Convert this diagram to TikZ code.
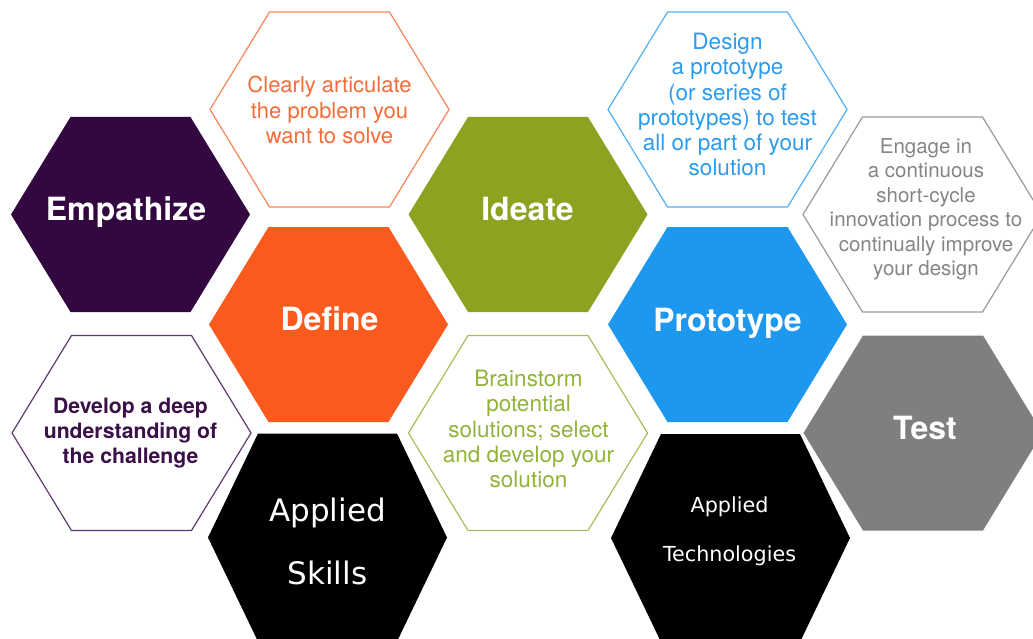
\documentclass[tikz,border=0pt]{standalone}
\usepackage{fontspec}
\setmainfont{TeX Gyre Heros}
\newfontfamily\verdfont{DejaVu Sans}
\definecolor{purplefill}{HTML}{33073F}
\definecolor{orangefill}{HTML}{FA5A1E}
\definecolor{greenfill}{HTML}{8BA321}
\definecolor{bluefill}{HTML}{1D98EE}
\definecolor{grayfill}{HTML}{7F7F7F}
\definecolor{orangetxt}{HTML}{F76B38}
\definecolor{orangeline}{HTML}{F7845A}
\definecolor{bluetxt}{HTML}{2A9BEF}
\definecolor{blueline}{HTML}{52B0F2}
\definecolor{greentxt}{HTML}{92B33A}
\definecolor{greenline}{HTML}{A5BE5A}
\definecolor{graytxt}{HTML}{858585}
\definecolor{grayline}{HTML}{999999}
\definecolor{purpletxt}{HTML}{3A1047}
\definecolor{purpleline}{HTML}{5E3A6E}
\newcommand\hexcell[3]{\path[#1,shift={(#2,#3)}] (-119.5,0) -- (-60,-97.5) -- (60,-97.5) -- (119.5,0) -- (60,97.5) -- (-60,97.5) -- cycle;}
\newcommand\bighexcell[3]{\path[#1,shift={(#2,#3)}] (-119.5,0) -- (-69.5,-104) -- (69.5,-104) -- (119.5,0) -- (69.5,104) -- (-69.5,104) -- cycle;}
\tikzset{
  outlinehex/.style={draw=#1, line width=1.2pt, line join=miter},
  filledhex/.style={fill=#1},
  desc/.style={align=center, inner sep=0pt, anchor=center, font=\fontsize{22}{25.3}\selectfont},
  label/.style={inner sep=0pt, anchor=base, text=white, font=\fontsize{32}{38}\selectfont\bfseries},
  applied/.style={align=center, inner sep=0pt, anchor=center, text=white}
}
\begin{document}
\begin{tikzpicture}[x=1pt,y=-1pt]
\path[use as bounding box] (0,0) rectangle (1033,639);
\clip (0,0) rectangle (1033,639);
% filled hexagons
\hexcell{filledhex=purplefill}{130.5}{214.5}
\hexcell{filledhex=greenfill}{528}{214.5}
\hexcell{filledhex=orangefill}{328.5}{324.5}
\hexcell{filledhex=bluefill}{727.5}{324.5}
\hexcell{filledhex=grayfill}{923}{433}
\bighexcell{filledhex=black}{327.5}{537.5}
\bighexcell{filledhex=black}{730.5}{538}
% outline hexagons
\hexcell{outlinehex=orangeline}{329.5}{109.5}
\hexcell{outlinehex=blueline}{727.5}{109.5}
\hexcell{outlinehex=grayline}{922.5}{214.5}
\hexcell{outlinehex=purpleline}{131.5}{433}
\hexcell{outlinehex=greenline}{528}{433}
% labels
\node[label] (empathize) at (126,221) {Empathize};
\node[label] (ideate) at (527.5,221) {Ideate};
\node[label] (define) at (329.5,330) {Define};
\node[label] (prototype) at (727.5,331) {Prototype};
\node[label] (test) at (925,439) {Test};
% descriptions
\node[desc, text=orangetxt] (clearly) at (329.5,110.2) {Clearly articulate\\the problem you\\want to solve};
\node[desc, text=bluetxt, font=\fontsize{22.5}{25.3}\selectfont] (design) at (727.5,104.7) {Design\\a prototype\\(or series of\\prototypes) to test\\all or part of your\\solution};
\node[desc, text=graytxt, font=\fontsize{20.5}{24.5}\selectfont] (engage) at (926,209.3) {Engage in\\a continuous\\short-cycle\\innovation process to\\continually improve\\your design};
\node[desc, text=purpletxt, font=\fontsize{21.2}{25}\selectfont\bfseries] (develop) at (130.5,432.9) {Develop a deep\\understanding of\\the challenge};
\node[desc, text=greentxt, font=\fontsize{22.5}{25.25}\selectfont] (brainstorm) at (528.5,429.2) {Brainstorm\\potential\\solutions; select\\and develop your\\solution};
% applied
\node[applied, font=\verdfont\fontsize{31}{63}\selectfont] (skills) at (327.5,541.7) {Applied\\Skills};
\node[applied, font=\verdfont\fontsize{20.7}{49}\selectfont] (technologies) at (729.5,531.7) {Applied\\Technologies};
\end{tikzpicture}
\end{document}
